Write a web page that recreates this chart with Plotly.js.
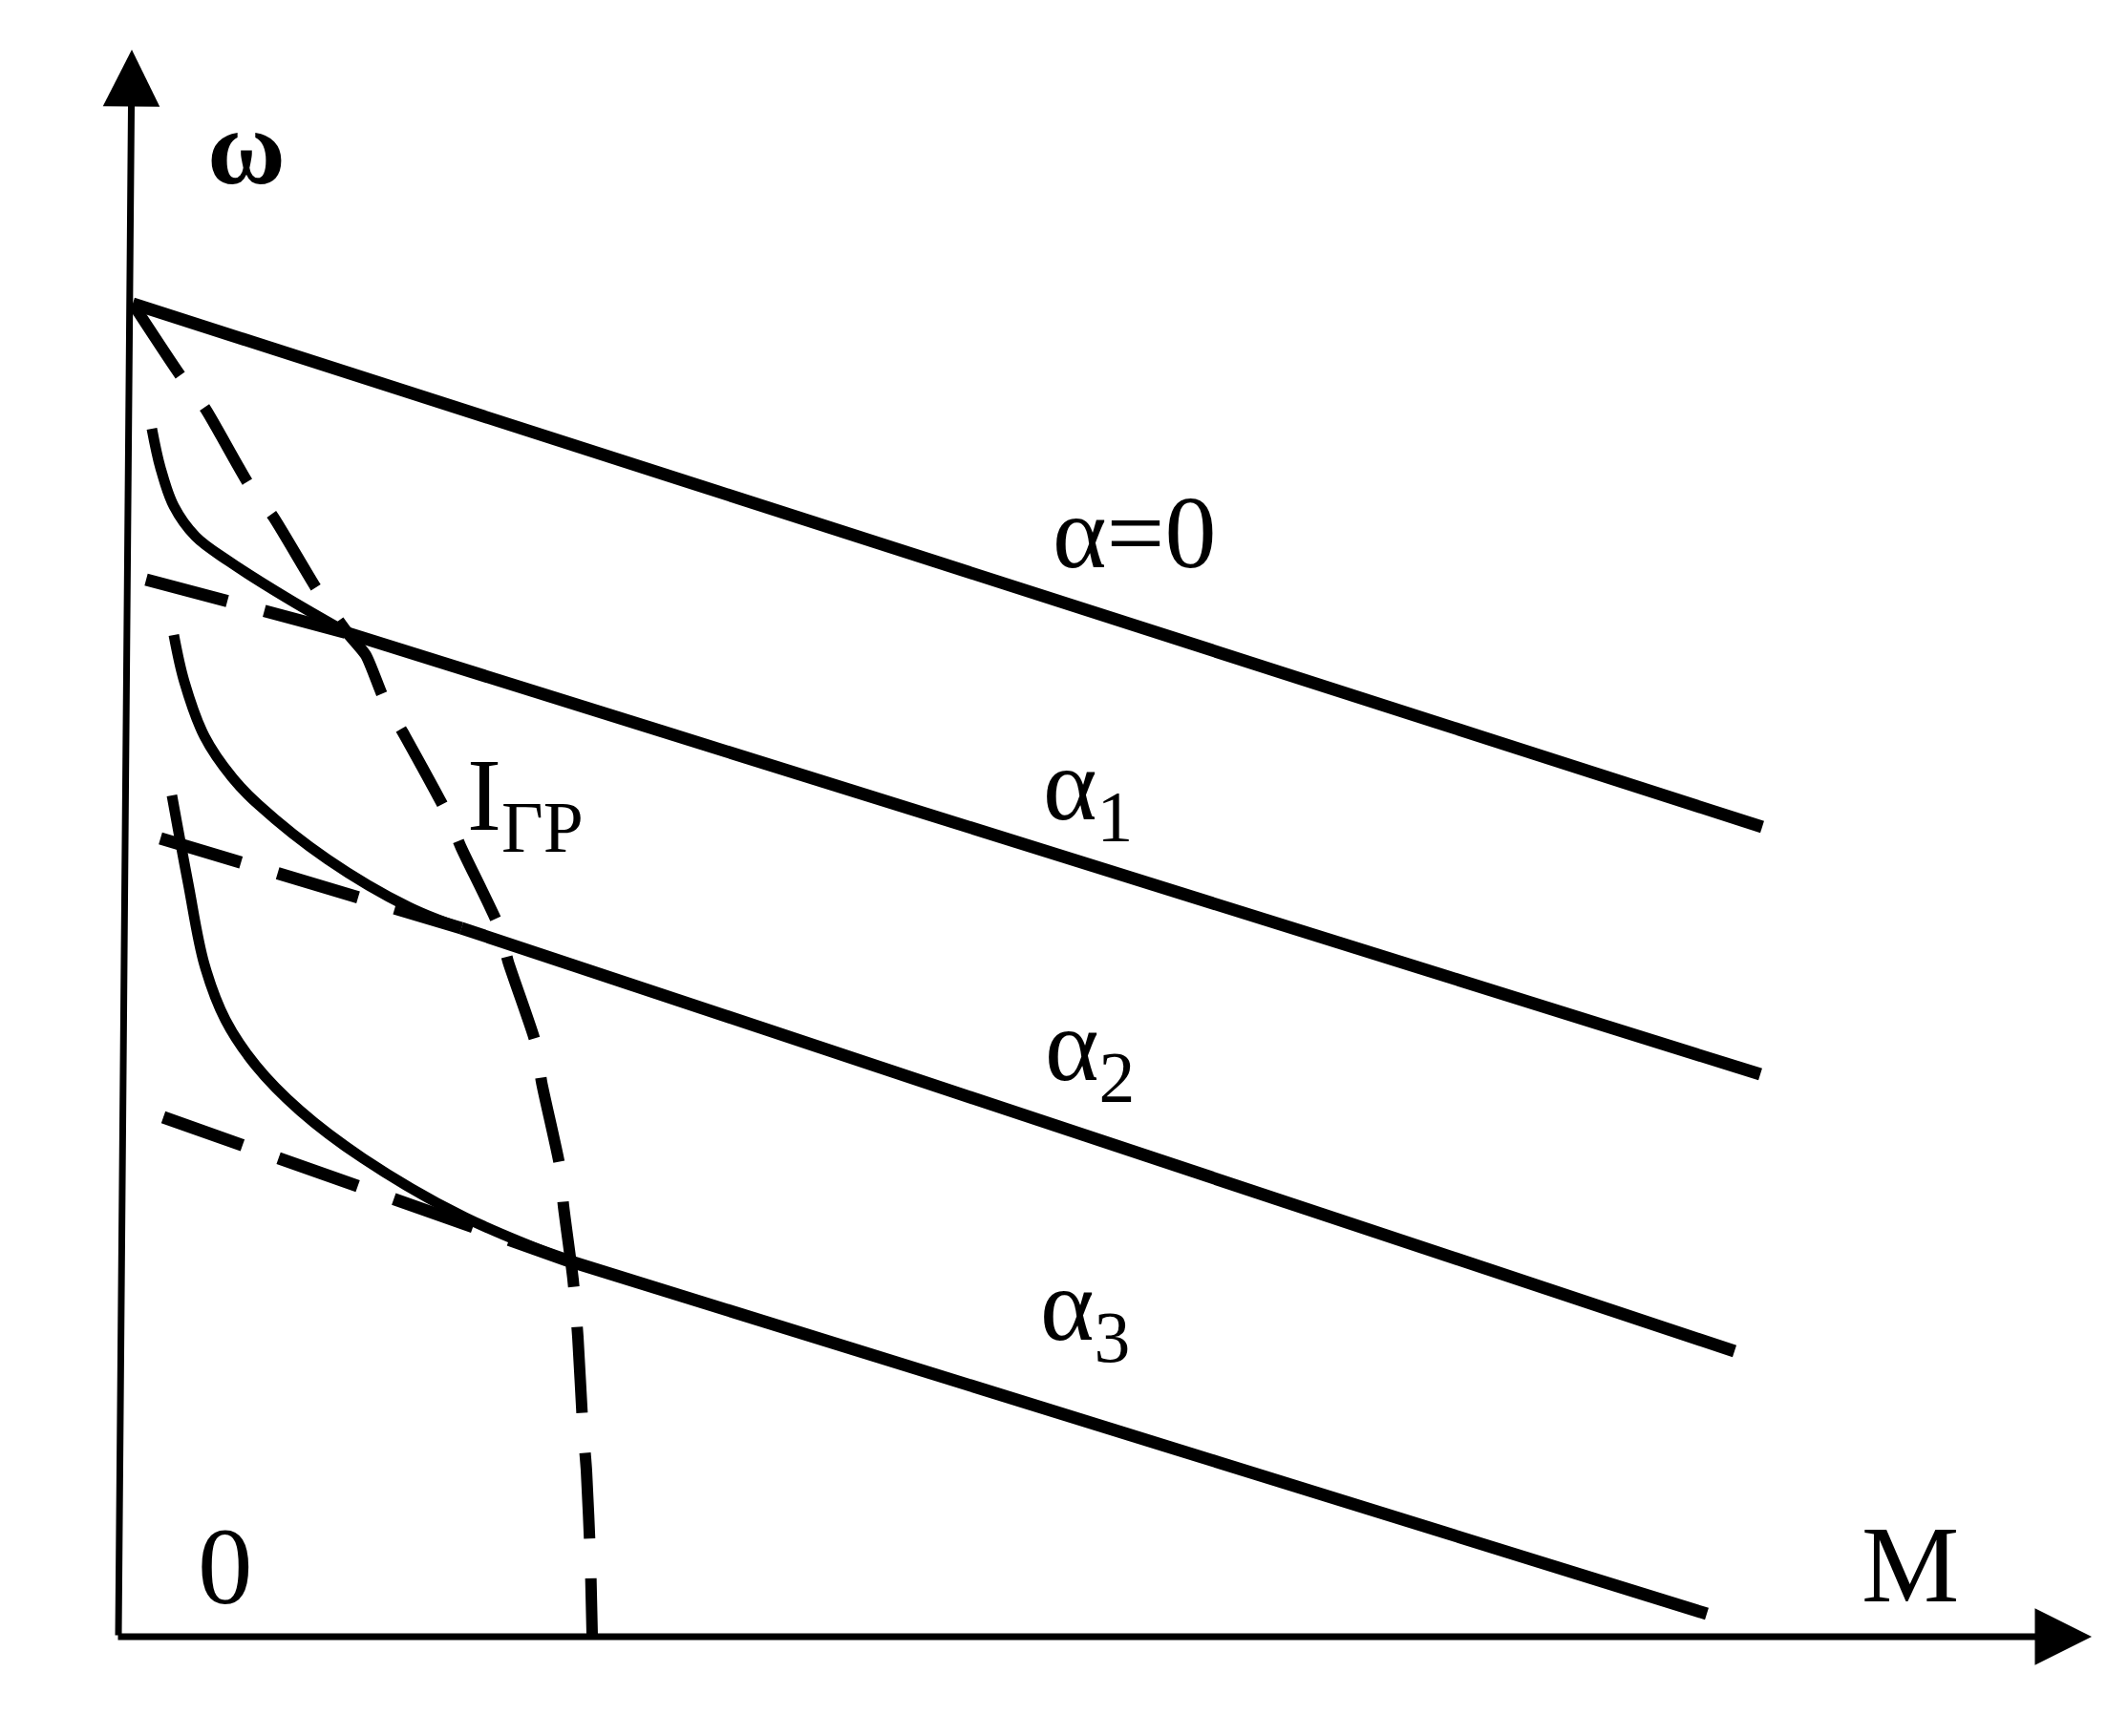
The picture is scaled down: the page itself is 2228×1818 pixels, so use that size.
<!DOCTYPE html>
<html>
<head>
<meta charset="utf-8">
<script src="https://cdn.plot.ly/plotly-3.0.1.min.js"></script>
<style>html,body{margin:0;padding:0;background:#fff}</style>
</head>
<body>
<div id="chart" style="width:2228px;height:1818px"></div>
<script>
// ---- data (M, ω in arbitrary units) ----
// α = 0 characteristic
const a0_M = [0.15, 17.21];
const a0_w = [13.96, 8.48];
// α1: dashed (extrapolated) part and solid part
const a1d_M = [0.29, 2.40];
const a1d_w = [11.07, 10.51];
const a1s_M = [2.40, 17.19];
const a1s_w = [10.51, 5.89];
// α2
const a2d_M = [0.44, 3.59];
const a2d_w = [8.36, 7.42];
const a2s_M = [3.59, 16.92];
const a2s_w = [7.42, 2.99];
// α3
const a3d_M = [0.47, 4.70];
const a3d_w = [5.44, 3.94];
const a3s_M = [4.70, 16.63];
const a3s_w = [3.94, 0.24];
// curved (current-limited) branches
const c1_M = [0.35, 0.44, 0.58, 0.81, 1.16, 1.76, 2.40];
const c1_w = [12.65, 12.24, 11.84, 11.52, 11.26, 10.88, 10.51];
const c2_M = [0.58, 0.69, 0.90, 1.19, 1.47, 2.19, 3.04, 3.59];
const c2_w = [10.49, 10.00, 9.43, 9.00, 8.71, 8.14, 7.64, 7.42];
const c3_M = [0.56, 0.73, 0.90, 1.12, 1.44, 1.90, 2.56, 3.59, 4.70];
const c3_w = [8.81, 7.89, 7.04, 6.46, 5.98, 5.51, 5.01, 4.41, 3.94];
// I_ГР boundary (dashed)
const igr_M = [0.15, 0.64, 0.91, 1.37, 1.62, 2.09, 2.40, 2.59, 2.78, 2.99, 3.43, 3.59, 3.99, 4.08, 4.37, 4.43, 4.62, 4.66, 4.76, 4.81, 4.86, 4.90, 4.94, 4.96];
const igr_w = [13.96, 13.22, 12.86, 12.06, 11.73, 10.95, 10.51, 10.28, 9.82, 9.45, 8.64, 8.26, 7.42, 7.07, 6.21, 5.81, 4.93, 4.51, 3.74, 3.14, 2.24, 1.74, 0.84, 0.02];
// axes extents
const axisM = [-0.02, 20.66];
const axisW = [0, 16.62];
const yAxisFootM = 0;
const yAxisTipM = 0.14;
// labels
const labelText = ['α=0', 'α<sub>1</sub>', 'α<sub>2</sub>', 'α<sub>3</sub>', 'I<sub>ГР</sub>'];
const labelM = [10.64, 10.15, 10.17, 10.12, 4.26];
const labelW = [11.57, 8.85, 6.12, 3.40, 8.74];

const BLACK = '#000';
const solid = (x, y, w, shape) => ({x, y, mode: 'lines', type: 'scatter', hoverinfo: 'skip',
  line: {color: BLACK, width: w, shape: shape || 'linear', smoothing: 1.0}});
const dashed = (x, y, w, pat, shape) => ({x, y, mode: 'lines', type: 'scatter', hoverinfo: 'skip',
  line: {color: BLACK, width: w, dash: pat, shape: shape || 'linear', smoothing: 0.6}});

const traces = [
  solid(a0_M, a0_w, 13),
  dashed(a1d_M, a1d_w, 13, '88px,40px'),
  solid(a1s_M, a1s_w, 13),
  dashed(a2d_M, a2d_w, 13, '88px,40px'),
  solid(a2s_M, a2s_w, 13),
  dashed(a3d_M, a3d_w, 13, '88px,40px'),
  solid(a3s_M, a3s_w, 13),
  solid(c1_M, c1_w, 11, 'spline'),
  solid(c2_M, c2_w, 11, 'spline'),
  solid(c3_M, c3_w, 11, 'spline'),
  dashed(igr_M, igr_w, 12, '90px,42px', 'spline')
];

const serif = 'Liberation Serif, Times New Roman, serif';
const annotations = [
  // x axis with arrow
  {x: axisM[1], y: 0, ax: axisM[0], ay: 0, xref: 'x', yref: 'y', axref: 'x', ayref: 'y',
   showarrow: true, arrowhead: 2, arrowsize: 1.7, arrowwidth: 7, arrowcolor: BLACK, text: ''},
  // y axis with arrow
  {x: yAxisTipM, y: axisW[1], ax: yAxisFootM, ay: axisW[0], xref: 'x', yref: 'y', axref: 'x', ayref: 'y',
   showarrow: true, arrowhead: 2, arrowsize: 1.7, arrowwidth: 7, arrowcolor: BLACK, text: ''},
  {x: 1.34, y: 15.60, text: '<b>ω</b>', showarrow: false, font: {family: serif, size: 112, color: BLACK}},
  {x: 1.12, y: 0.74, text: '0', showarrow: false, font: {family: serif, size: 115, color: BLACK}},
  {x: 18.76, y: 0.76, text: 'M', showarrow: false, font: {family: serif, size: 115, color: BLACK}}
];
labelText.forEach((t, i) => annotations.push({x: labelM[i], y: labelW[i], text: t, showarrow: false,
  font: {family: serif, size: 108, color: BLACK}}));

const layout = {
  width: 2228, height: 1818,
  margin: {l: 0, r: 0, t: 0, b: 0},
  paper_bgcolor: '#fff', plot_bgcolor: '#fff',
  showlegend: false,
  xaxis: {range: [-1.24, 21.04], visible: false, fixedrange: true},
  yaxis: {range: [-1.04, 17.14], visible: false, fixedrange: true},
  annotations
};
Plotly.newPlot('chart', traces, layout, {staticPlot: true, displayModeBar: false});
</script>
</body>
</html>
